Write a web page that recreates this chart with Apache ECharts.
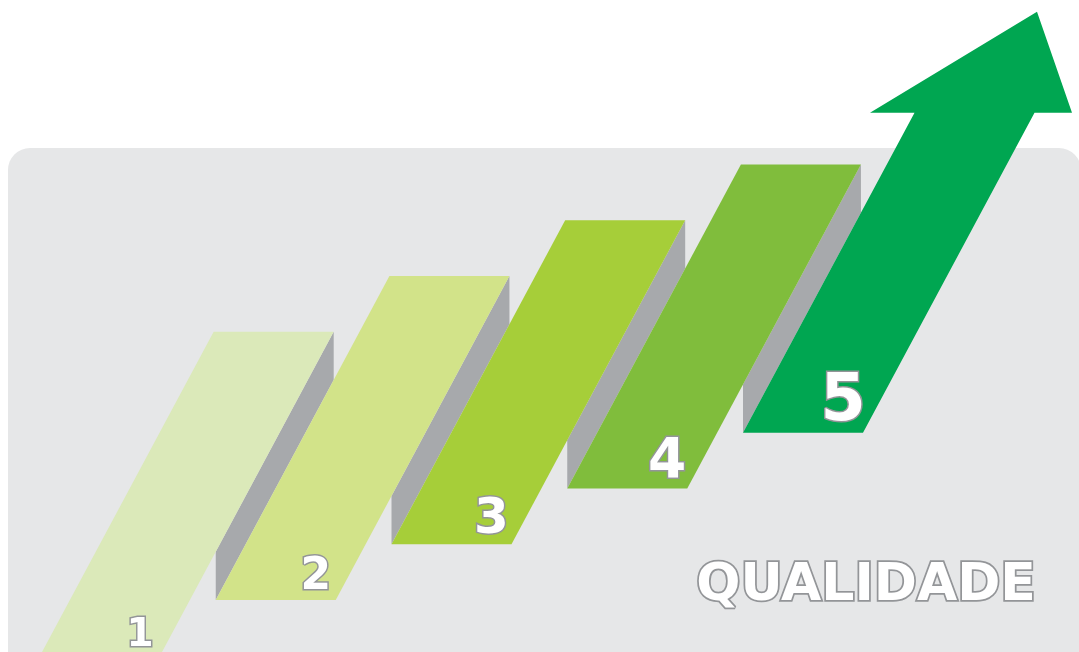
<!DOCTYPE html>
<html><head><meta charset="utf-8">
<script src="https://cdn.jsdelivr.net/npm/echarts@6/dist/echarts.min.js"></script>
<style>html,body{margin:0;padding:0;background:#fff;overflow:hidden}#c{width:1079px;height:652px}</style>
</head><body><div id="c"></div>
<script>
// ---- data ----
const categories = ['1', '2', '3', '4', '5'];
const qualityLevels = [1, 2, 3, 4, 5];
const chartTitle = 'QUALIDADE';

// ---- styles ----
const STEP_COLORS = ['#dbe9b9', '#d2e389', '#a6ce39', '#80bd3c', '#00a651'];
const SHADOW_COLOR = '#a7a9ac';
const LABEL_SIZES = [39, 44, 50, 55, 65];
const STEP_H = 324, HALF_W = 60, SLANT = 0.536;

const data = qualityLevels.map((v, i) => [i + 1, v]);

function renderShadow(params, api) {
  const i = params.dataIndex;
  if (i === 0) return null;
  const c = api.coord(data[i]);
  const p = api.coord(data[i - 1]);
  const ax = c[0] - HALF_W, ay = c[1];
  const prx = p[0] + HALF_W, pry = p[1];
  const by = pry - (ax - prx) / SLANT;
  const tx = prx + SLANT * STEP_H, ty = pry - STEP_H;
  const dy = ay - (tx - ax) / SLANT;
  return {
    type: 'polygon',
    shape: { points: [[ax, ay], [ax, by], [tx, ty], [tx, dy]] },
    style: { fill: SHADOW_COLOR }
  };
}

function renderStep(params, api) {
  const i = params.dataIndex;
  const c = api.coord([api.value(0), api.value(1)]);
  const x = c[0], y = c[1];
  let pts;
  if (i < data.length - 1) {
    pts = [[x - HALF_W, y], [x + HALF_W, y],
           [x + HALF_W + SLANT * STEP_H, y - STEP_H], [x - HALF_W + SLANT * STEP_H, y - STEP_H]];
  } else {
    const SH = 320;
    pts = [[x - HALF_W, y], [x + HALF_W, y],
           [x + HALF_W + SLANT * SH, y - SH], [x + 269, y - SH], [x + 234, y - 421],
           [x + 67, y - SH], [x - HALF_W + SLANT * SH, y - SH]];
  }
  const fs = LABEL_SIZES[i];
  return {
    type: 'group',
    children: [
      { type: 'polygon', shape: { points: pts }, style: { fill: STEP_COLORS[i] } },
      {
        type: 'text', x: x + 40, y: y - 6 - 0.365 * fs,
        style: {
          text: categories[i], fontSize: fs, fontWeight: 'bold', fontFamily: 'DejaVu Sans',
          fill: '#ffffff', stroke: '#939598', lineWidth: 3, strokeFirst: true,
          align: 'center', verticalAlign: 'middle'
        }
      }
    ]
  };
}

const chart = echarts.init(document.getElementById('c'), null, { renderer: 'canvas' });
chart.setOption({
  animation: false,
  backgroundColor: '#ffffff',
  grid: { left: 100, width: 703, top: 377, height: 223 },
  xAxis: { type: 'value', min: 1, max: 5, show: false },
  yAxis: { type: 'value', min: 2, max: 6, show: false },
  graphic: [
    { type: 'rect', z: -10, shape: { x: 8, y: 148, width: 1073, height: 600, r: 22 }, style: { fill: '#e6e7e8' } },
    {
      type: 'text', z: 0, x: 866, y: 586,
      style: {
        text: chartTitle, fontSize: 52, fontWeight: 'bold', fontFamily: 'DejaVu Sans',
        fill: '#ffffff', stroke: '#939598', lineWidth: 3.5, strokeFirst: true,
        align: 'center', verticalAlign: 'middle'
      }
    }
  ],
  series: [
    { type: 'custom', name: 'sombra', coordinateSystem: 'cartesian2d', clip: false, z: 1,
      data: data, renderItem: renderShadow, silent: true },
    { type: 'custom', name: 'degraus', coordinateSystem: 'cartesian2d', clip: false, z: 2,
      data: data, renderItem: renderStep, silent: true }
  ]
});
</script></body></html>
